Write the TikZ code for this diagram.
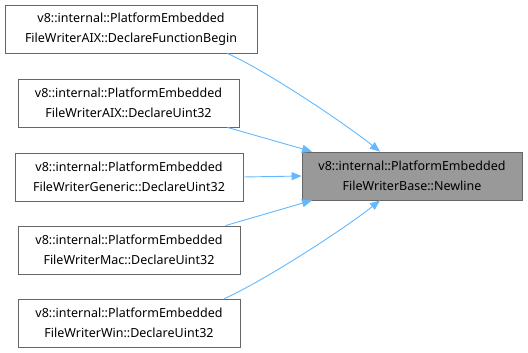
\documentclass[tikz,border=0pt]{standalone}
\usepackage{fontspec}
\setmainfont{Noto Sans}
\usetikzlibrary{arrows.meta}
\definecolor{edgeblue}{HTML}{63B8FF}
\definecolor{boxline}{HTML}{666666}
\definecolor{boxfill}{HTML}{999999}
\tikzset{
  caller/.style={draw=boxline, fill=white, line width=0.8pt, rectangle,
    minimum height=48pt, align=center, inner sep=0pt,
    font=\fontsize{12.5}{19.5}\selectfont},
  callee/.style={caller, fill=boxfill},
  link/.style={draw=edgeblue, line width=0.9pt,
    -{Triangle[length=10pt,width=8pt]}}
}
\begin{document}
\begin{tikzpicture}[x=1pt,y=-1pt]
\useasboundingbox (0,0) rectangle (528,353);
\node[caller, minimum width=252pt] (b1) at (131,29)
  {v8::internal::PlatformEmbedded\\FileWriterAIX::DeclareFunctionBegin};
\node[caller, minimum width=221pt] (b2) at (128.5,103)
  {v8::internal::PlatformEmbedded\\FileWriterAIX::DeclareUint32};
\node[caller, minimum width=228pt] (b3) at (129,177)
  {v8::internal::PlatformEmbedded\\FileWriterGeneric::DeclareUint32};
\node[caller, minimum width=222pt] (b4) at (129,250)
  {v8::internal::PlatformEmbedded\\FileWriterMac::DeclareUint32};
\node[caller, minimum width=222pt] (b5) at (129,323)
  {v8::internal::PlatformEmbedded\\FileWriterWin::DeclareUint32};
\node[callee, minimum width=220pt] (r) at (412,176)
  {v8::internal::PlatformEmbedded\\FileWriterBase::Newline};

\draw[link] ([xshift=-30pt]b1.south east)
  .. controls +(40,18) and +(-35,-28) .. ([xshift=-32pt]r.north);
\draw[link] ([xshift=-12pt]b2.south east) -- ([xshift=-100pt]r.north);
\draw[link] (b3.east) -- (r.west);
\draw[link] ([xshift=-15pt]b4.north east) -- ([xshift=-100pt]r.south);
\draw[link] ([xshift=-16pt]b5.north east)
  .. controls +(40,-18) and +(-35,28) .. ([xshift=-32pt]r.south);
\end{tikzpicture}
\end{document}
